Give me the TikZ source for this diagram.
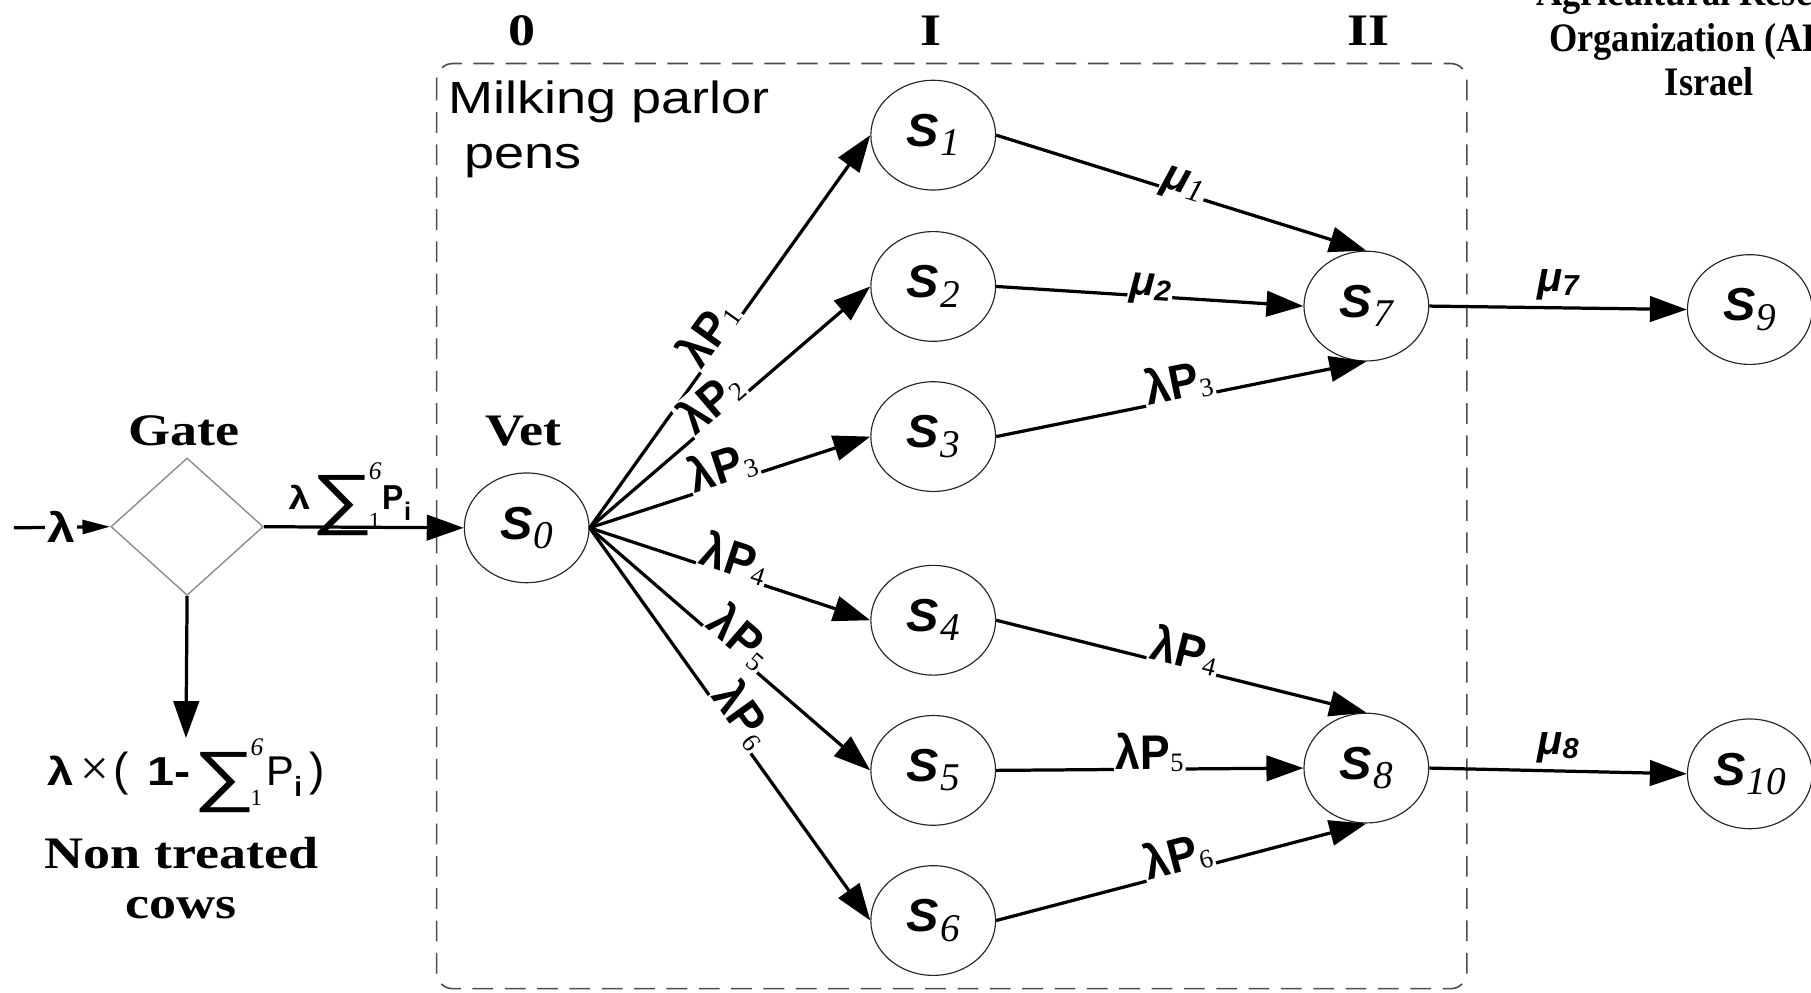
\documentclass[tikz,border=0pt]{standalone}
\usepackage{fontspec}
\usetikzlibrary{shapes.geometric,arrows.meta}
\setmainfont{Liberation Serif}
\newfontfamily\hdrfont[FakeStretch=1.2]{Liberation Serif}
\newfontfamily\orgfont[FakeStretch=0.9]{Liberation Serif}
\newfontfamily\widesans[FakeStretch=1.2]{Liberation Sans}
\newfontfamily\ratesans[FakeStretch=0.92]{Liberation Sans}
\newfontfamily\plainsans{Liberation Sans}
\newfontfamily\statesans[FakeStretch=1.05]{Liberation Sans}
\newfontfamily\idxserif{Liberation Serif}
\newfontfamily\opfont[FakeStretch=1.3]{Liberation Sans}

% state name: bold italic S with a serif italic index
\newcommand{\stlabel}[1]{{\statesans\bfseries\itshape\fontsize{20}{20}\selectfont S}\kern0.5pt\raisebox{-4pt}{\idxserif\itshape\fontsize{17}{17}\selectfont #1}}
% transition rates
\newcommand{\lamP}[1]{{\ratesans\bfseries\fontsize{21}{21}\selectfont λP}\raisebox{-1pt}{\idxserif\fontsize{11.5}{11.5}\selectfont #1}}
\newcommand{\muSerif}[1]{{\plainsans\bfseries\itshape\fontsize{19}{19}\selectfont μ}\raisebox{-2pt}{\idxserif\itshape\fontsize{14}{14}\selectfont #1}}
\newcommand{\muSans}[1]{{\plainsans\bfseries\itshape\fontsize{18}{18}\selectfont μ}\raisebox{-1.5pt}{\plainsans\bfseries\itshape\fontsize{12.5}{12.5}\selectfont #1}}
% summation over the six pens
\newcommand{\sumsix}{\raisebox{-5.5pt}{\opfont\fontsize{29}{29}\selectfont ∑}\kern-2pt\rlap{\raisebox{13pt}{\idxserif\itshape\fontsize{11}{11}\selectfont 6}}\raisebox{-8.5pt}{\idxserif\fontsize{10}{10}\selectfont 1}\kern2pt}

\tikzset{
  hdr/.style={font=\hdrfont\bfseries\fontsize{19.5}{22}\selectfont, anchor=base, inner sep=0},
  org/.style={font=\orgfont\bfseries\fontsize{17.5}{20}\selectfont, anchor=base, inner sep=0},
  pentxt/.style={font=\widesans\fontsize{19.5}{22}\selectfont, anchor=base west, inner sep=0},
  state/.style={ellipse, draw=black!85, line width=0.5pt, minimum width=54pt, minimum height=47.5pt, inner sep=0},
  arr/.style={line width=1.4pt, -{Triangle[length=16pt,width=11pt]}},
  elbl/.style={fill=white, inner sep=0.8pt, sloped, anchor=base},
  toplbl/.style={inner sep=0, anchor=base, yshift=7pt},
  pen/.style={draw=black!70, line width=0.7pt, dash pattern=on 9pt off 5pt, rounded corners=7pt}
}

\begin{document}
\begin{tikzpicture}[x=0.5pt, y=-0.5pt]
\useasboundingbox (0,0) rectangle (1568,859);
\clip (0,0) rectangle (1568,859);

% milking parlor pens
\draw[pen] (378,55) rectangle (1270,856);
\node[pentxt] (pen1) at (388,98) {Milking parlor};
\node[pentxt] (pen2) at (402,146) {pens};

% stage headers
\node[hdr] (h0) at (452,39) {0};
\node[hdr] (h1) at (806,39) {I};
\node[hdr] (h2) at (1185,39) {II};

% organisation
\node[org] (org1) at (1480,5) {Agricultural Research};
\node[org] (org2) at (1480,45) {Organization (ARO)};
\node[org] (org3) at (1480,83) {Israel};

% gate
\node[diamond, draw=black!45, line width=0.6pt, minimum width=66pt, minimum height=59.5pt, inner sep=0] (gate) at (162,456) {};
\node[hdr] (gatelbl) at (159,386) {Gate};
\node[hdr] (vetlbl) at (453,386) {Vet};
\node[inner sep=0, anchor=base] (rest) at (161,680)
  {{\widesans\bfseries\fontsize{17}{17}\selectfont λ}\kern3pt{\idxserif\fontsize{22}{22}\selectfont ×}\kern2pt{\plainsans\fontsize{20}{20}\selectfont (}\hspace{8pt}{\widesans\bfseries\fontsize{17.5}{17.5}\selectfont 1-}\kern1pt\sumsix{\plainsans\fontsize{18}{18}\selectfont P}\raisebox{-5pt}{\plainsans\bfseries\fontsize{12}{12}\selectfont i}\kern3pt{\plainsans\fontsize{20}{20}\selectfont )}};
\node[hdr] (nt1) at (157,752) {Non treated};
\node[hdr] (nt2) at (157,795) {cows};

% states
\node[state] (S0) at (456,457) {\stlabel{0}};
\node[state] (S1) at (808,117) {\stlabel{1}};
\node[state] (S2) at (808,248) {\stlabel{2}};
\node[state] (S3) at (808,378) {\stlabel{3}};
\node[state] (S4) at (808,537) {\stlabel{4}};
\node[state] (S5) at (808,667) {\stlabel{5}};
\node[state] (S6) at (808,797) {\stlabel{6}};
\node[state] (S7) at (1183,265) {\stlabel{7}};
\node[state] (S8) at (1183,665) {\stlabel{8}};
\node[state] (S9) at (1515,268) {\stlabel{9}};
\node[state] (S10) at (1515,670) {\stlabel{10}};

% arrivals
\coordinate (lamIn) at (12,457);
\draw[line width=1.4pt, -{Triangle[length=12pt,width=6pt]}] (lamIn) --
  node[fill=white, inner sep=1pt, pos=.49] {\widesans\bfseries\fontsize{18}{18}\selectfont λ} (gate.west);
\draw[arr] (gate.east) --
  node[inner sep=0, anchor=base, pos=.43, yshift=7.75pt]
  {{\widesans\bfseries\fontsize{14}{14}\selectfont λ}\kern0.5pt\sumsix\kern-1pt{\ratesans\bfseries\fontsize{15}{15}\selectfont P}\raisebox{-5pt}{\plainsans\bfseries\fontsize{11}{11}\selectfont i}} (S0.west);
\draw[arr] (gate.south) -- (rest.north);

% vet to pens
\draw[arr] (S0.east) -- node[elbl, pos=.47] {\lamP{1}} (S1.west);
\draw[arr] (S0.east) -- node[elbl, pos=.47] {\lamP{2}} (S2.west);
\draw[arr] (S0.east) -- node[elbl, pos=.49] {\lamP{3}} (S3.west);
\draw[arr] (S0.east) -- node[elbl, pos=.5] {\lamP{4}} (S4.west);
\draw[arr] (S0.east) -- node[elbl, pos=.5] {\lamP{5}} (S5.west);
\draw[arr] (S0.east) -- node[elbl, pos=.5] {\lamP{6}} (S6.west);

% pens to stage II
\draw[arr] (S1.east) -- node[elbl, pos=.5] {\muSerif{1}} (S7.north);
\draw[arr] (S2.east) -- node[elbl, pos=.5] {\muSans{2}} (S7.west);
\draw[arr] (S3.east) -- node[elbl, pos=.5] {\lamP{3}} (S7.south);
\draw[arr] (S4.east) -- node[elbl, pos=.5] {\lamP{4}} (S8.north);
\draw[arr] (S5.east) -- node[elbl, pos=.5] {\lamP{5}} (S8.west);
\draw[arr] (S6.east) -- node[elbl, pos=.5] {\lamP{6}} (S8.south);

% exits
\draw[arr] (S7.east) -- node[toplbl, pos=.5] {\muSans{7}} (S9.west);
\draw[arr] (S8.east) -- node[toplbl, pos=.5] {\muSans{8}} (S10.west);
\end{tikzpicture}
\end{document}
